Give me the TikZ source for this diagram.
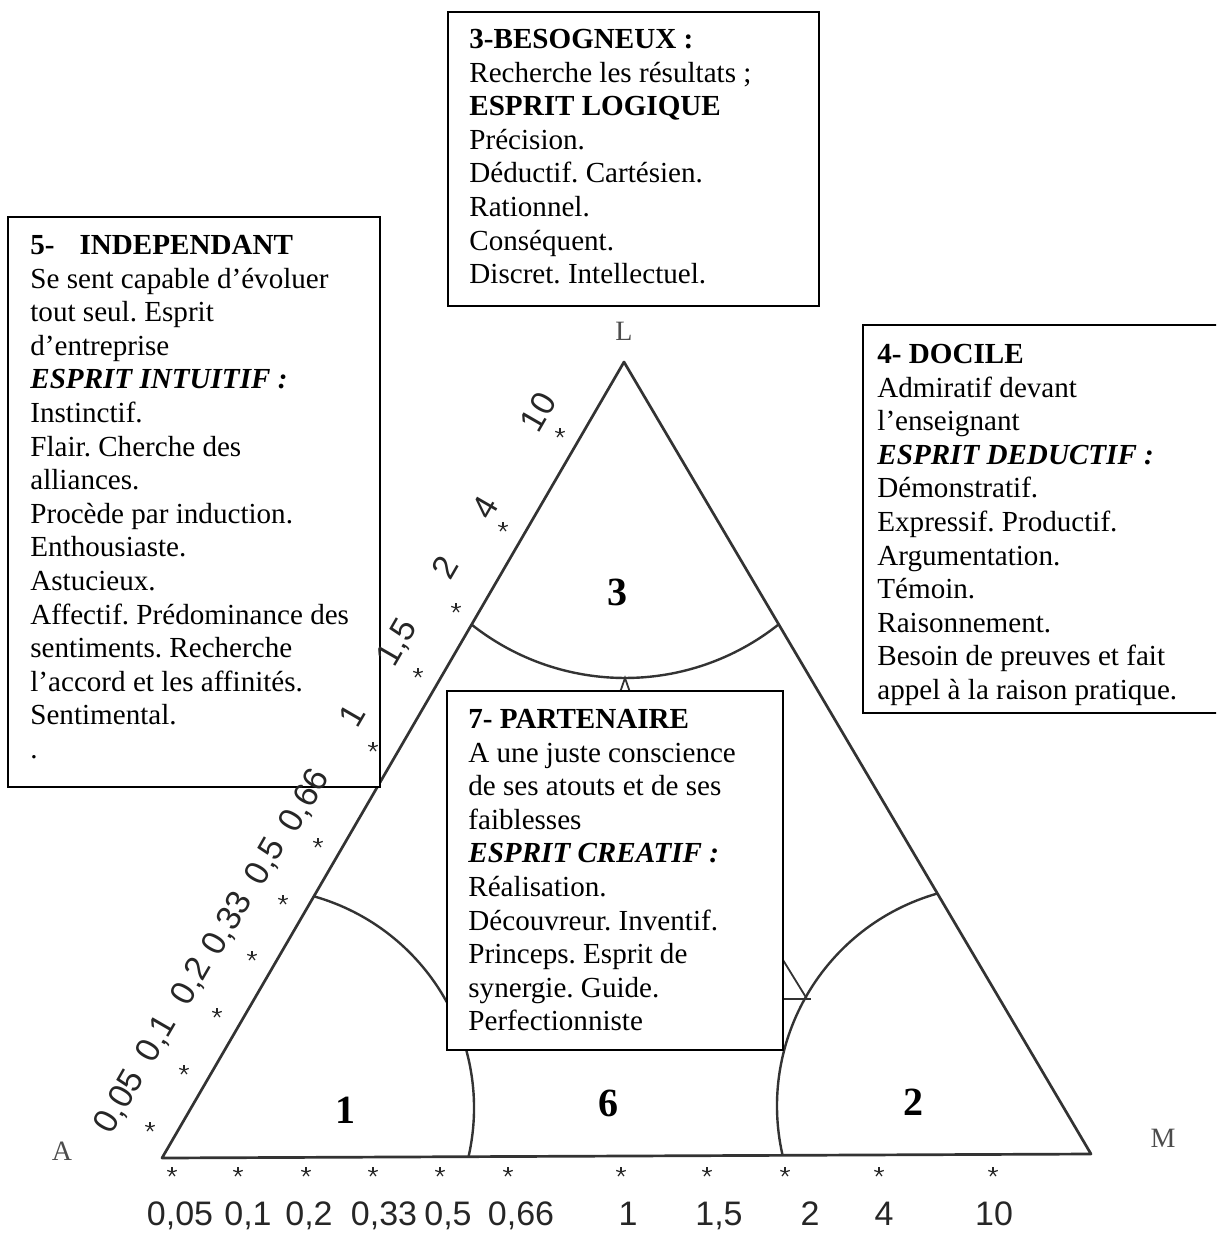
\documentclass[tikz,border=0pt]{standalone}
\usepackage{fontspec}
\setmainfont{Liberation Serif}
\newfontfamily\axisfont{Liberation Sans}
\begin{document}
\frenchspacing
\begin{tikzpicture}[x=0.5pt,y=-0.5pt,
  tri/.style={line width=1.35pt, draw=black!80, line join=round},
  zoneline/.style={line width=1.2pt, draw=black!80},
  boxframe/.style={draw=black, line width=0.9pt, fill=white},
  boxtext/.style={anchor=north west, inner sep=0pt, align=left,
    font=\fontsize{14.55pt}{16.8pt}\selectfont},
  zone/.style={font=\fontsize{20pt}{24pt}\selectfont\bfseries, inner sep=0pt},
  vertex/.style={font=\fontsize{14pt}{17pt}\selectfont, text=black!70, inner sep=0pt},
  scalelabel/.style={font=\axisfont\fontsize{17pt}{20pt}\selectfont, text=black!85,
    inner sep=0pt},
  astmark/.pic={\foreach \a in {-90,-18,54,126,198}
    \draw[line width=0.6pt, black!85] (0,0) -- (\a:5);}
]
\useasboundingbox (0,0) rectangle (1216,1234);
\clip (0,0) rectangle (1216,1234);

% ---- triangle A-L-M ----
\coordinate (A) at (162,1158);
\coordinate (L) at (624,362);
\coordinate (M) at (1091,1154);
\draw[tri] (A) -- (L) -- (M) -- cycle;

% ---- zone boundaries ----
\draw[zoneline] (254,1108) ++(-74.25:220) arc[start angle=-74.25, end angle=12.9, radius=220];
\draw[zoneline] (998,1106) ++(167.2:221) arc[start angle=167.2, end angle=254.2, radius=221];
\draw[zoneline] (625,431) ++(51.5:247) arc[start angle=51.5, end angle=128.3, radius=247];
% short strokes towards the centre
\draw[zoneline, line width=0.9pt] (620.5,691) -- (625,678) -- (629.5,691);
\draw[zoneline, line width=0.9pt] (783,960) -- (807,999);
\draw[zoneline, line width=0.9pt] (783,999) -- (811,999);

% ---- 3 : BESOGNEUX ----
\draw[boxframe] (448,12) rectangle (819,306);
\node[boxtext] (t3) at (469,24.5) {\strut\textbf{3-BESOGNEUX :}\\
Recherche les résultats ;\\
\textbf{ESPRIT LOGIQUE}\\
Précision.\\
Déductif. Cartésien.\\
Rationnel.\\
Conséquent.\\
Discret. Intellectuel.};

% ---- 5 : INDEPENDANT ----
\draw[boxframe] (8,217) rectangle (380,787);
\node[boxtext] (t5) at (30,230.5) {\strut\textbf{5-\hspace{12.5pt}INDEPENDANT}\\
Se sent capable d’évoluer\\
tout seul. Esprit\\
d’entreprise\\
\textbf{\textit{ESPRIT INTUITIF :}}\\
Instinctif.\\
Flair. Cherche des\\
alliances.\\
Procède par induction.\\
Enthousiaste.\\
Astucieux.\\
Affectif. Prédominance des\\
sentiments. Recherche\\
l’accord et les affinités.\\
Sentimental.\\
.};

% ---- 4 : DOCILE ----
\draw[boxframe] (863,325) rectangle (1240,713);
\node[boxtext] (t4) at (877,339.5) {\strut\textbf{4- DOCILE}\\
Admiratif devant\\
l’enseignant\\
\textbf{\textit{ESPRIT DEDUCTIF :}}\\
Démonstratif.\\
Expressif. Productif.\\
Argumentation.\\
Témoin.\\
Raisonnement.\\
Besoin de preuves et fait\\
appel à la raison pratique.};

% ---- 7 : PARTENAIRE ----
\draw[boxframe] (447,691) rectangle (783,1050);
\node[boxtext] (t7) at (468,704.5) {\strut\textbf{7- PARTENAIRE}\\
A une juste conscience\\
de ses atouts et de ses\\
faiblesses\\
\textbf{\textit{ESPRIT CREATIF :}}\\
Réalisation.\\
Découvreur. Inventif.\\
Princeps. Esprit de\\
synergie. Guide.\\
Perfectionniste};

% ---- graduation marks ----
\foreach \px/\py in {150/1127,184/1070,217/1013,252/956,283/900,318/843,
                     373/747,418/673,456/608,503/527,560/433}
  \pic at (\px,\py) {astmark};
\foreach \px in {172,238,306,373,440,508,621,707,785,879,993}
  \pic at (\px,1172) {astmark};

% ---- scale labels along A-L ----
\node[scalelabel, rotate=60] (sl1) at (120,1102) {0,05};
\node[scalelabel, rotate=60] (sl2) at (157,1039) {0,1};
\node[scalelabel, rotate=60] (sl3) at (192,982) {0,2};
\node[scalelabel, rotate=60] (sl4) at (228,924) {0,33};
\node[scalelabel, rotate=60] (sl5) at (266,862) {0,5};
\node[scalelabel, rotate=60] (sl6) at (305,801) {0,66};
\node[scalelabel, rotate=60] (sl7) at (352,715) {1};
\node[scalelabel, rotate=60] (sl8) at (398,643) {1,5};
\node[scalelabel, rotate=60] (sl9) at (445,567) {2};
\node[scalelabel, rotate=60] (sl10) at (485,507) {4};
\node[scalelabel, rotate=60] (sl11) at (538,412) {10};

% ---- scale labels along A-M ----
\foreach \px/\lab [count=\i] in {180/{0,05},248/{0,1},309/{0,2},384/{0,33},448/{0,5},
    521/{0,66},628/{1},719/{1,5},810/{2},884/{4},994/{10}}
  \node[scalelabel, anchor=base] (bl\i) at (\px,1225) {\lab};

% ---- vertices ----
\node[vertex] (lA) at (62,1151) {A};
\node[vertex] (lM) at (1163,1138) {M};
\node[vertex] (lL) at (624,331) {L};

% ---- zone numbers ----
\node[zone] (z1) at (345,1110) {1};
\node[zone] (z6) at (608,1103) {6};
\node[zone] (z2) at (913,1102) {2};
\node[zone] (z3) at (617,592) {3};
\end{tikzpicture}
\end{document}
